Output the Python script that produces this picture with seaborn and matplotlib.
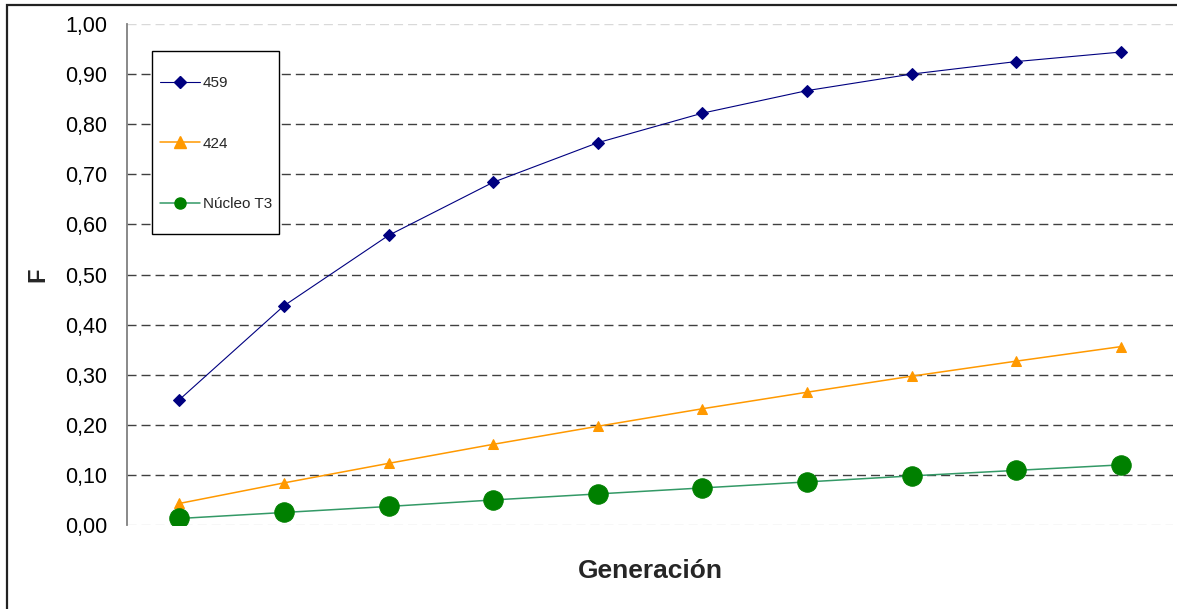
import matplotlib
matplotlib.use("Agg")
import matplotlib.pyplot as plt
from matplotlib.lines import Line2D
from matplotlib.patches import Rectangle
from matplotlib.ticker import FuncFormatter
import seaborn as sns
import pandas as pd

# Inbreeding coefficient F per generation
generaciones = list(range(1, 11))
f_459 = [0.250, 0.4375, 0.578, 0.684, 0.763, 0.822, 0.867, 0.900, 0.925, 0.944]
f_424 = [0.043, 0.084, 0.123, 0.161, 0.197, 0.232, 0.265, 0.297, 0.327, 0.356]
f_nucleo = [0.013, 0.025, 0.037, 0.050, 0.062, 0.074, 0.086, 0.098, 0.109, 0.120]
series_names = ["459", "424", "Núcleo T3"]
y_ticks = [0.0, 0.1, 0.2, 0.3, 0.4, 0.5, 0.6, 0.7, 0.8, 0.9, 1.0]

sns.set_style("white")
plt.rcParams["font.family"] = ["Liberation Sans", "DejaVu Sans"]

W, H = 1177, 609
AX_L, AX_R, AX_T, AX_B = 127, 1173, 24, 525
fig = plt.figure(figsize=(W / 100, H / 100), dpi=100)
ax = fig.add_axes([AX_L / W, (H - AX_B) / H, (AX_R - AX_L) / W, (AX_B - AX_T) / H])


def ax_x(px):
    return (px - AX_L) / (AX_R - AX_L)


def ax_y(py):
    return (AX_B - py) / (AX_B - AX_T)


styles = [
    dict(color="#000080", marker="D", markersize=6, markerfacecolor="#000080",
         markeredgecolor="#000080", linewidth=0.8),
    dict(color="#FF9900", marker="^", markersize=7.5, markerfacecolor="#FF9900",
         markeredgecolor="#FF9900", linewidth=1.1),
    dict(color="#339966", marker="o", markersize=14, markerfacecolor="#008000",
         markeredgecolor="#008000", linewidth=1.1),
]
values = [f_459, f_424, f_nucleo]

for name, vals, st in zip(series_names, values, styles):
    df = pd.DataFrame({"Generación": generaciones, "F": vals})
    sns.lineplot(data=df, x="Generación", y="F", ax=ax, legend=False, **st)

ax.set_xlim(0.5, 10.5)
ax.set_ylim(0, 1.0)
ax.set_yticks(y_ticks)
ax.yaxis.set_major_formatter(FuncFormatter(lambda v, p: f"{v:.2f}".replace(".", ",")))
ax.set_xticks([])

ax.tick_params(axis="y", direction="out", length=6, width=1.0, color="black",
               pad=8, labelsize=15.5, labelcolor="black")

for s in ["top", "right", "bottom"]:
    ax.spines[s].set_visible(False)
ax.spines["left"].set_color("#808080")
ax.spines["left"].set_linewidth(1.3)

ax.yaxis.grid(True, color="#404040", linewidth=1.0, linestyle=(0, (6.5, 3.6)))
grid = ax.get_ygridlines()
for g in (grid[0], grid[-1]):
    g.set_color("#D9D9D9")
ax.set_axisbelow(True)

ax.set_xlabel("Generación", fontsize=19, fontweight="bold")
ax.xaxis.set_label_coords(0.5, -0.068)
ax.set_ylabel("F", fontsize=17, fontweight="bold", labelpad=0)
ax.yaxis.set_label_coords(-0.074, 0.5)

# legend: entries without frame, box drawn separately
handles = [
    Line2D([], [], color="#000080", marker="D", markersize=6, linewidth=0.8,
           markerfacecolor="#000080", markeredgecolor="#000080"),
    Line2D([], [], color="#FF9900", marker="^", markersize=8, linewidth=1.1,
           markerfacecolor="#FF9900", markeredgecolor="#FF9900"),
    Line2D([], [], color="#339966", marker="o", markersize=8, linewidth=1.1,
           markerfacecolor="#008000", markeredgecolor="#008000"),
]
leg = ax.legend(handles, series_names, loc="upper left",
                bbox_to_anchor=(ax_x(160), ax_y(76)),
                fontsize=11, frameon=False, borderpad=0, handlelength=2.6,
                handletextpad=0.2, labelspacing=3.05, borderaxespad=0,
                numpoints=1)

box = Rectangle((ax_x(152), ax_y(234)), ax_x(279) - ax_x(152), ax_y(51) - ax_y(234),
                transform=ax.transAxes, facecolor="white", edgecolor="black",
                linewidth=1.0, zorder=4)
ax.add_patch(box)
leg.set_zorder(5)

# outer chart border
fig.patches.append(Rectangle((7 / W, -0.1), 1.2, (H - 5) / H + 0.1,
                             transform=fig.transFigure, fill=False,
                             edgecolor="#222222", linewidth=1.6))

fig.savefig("out.png", dpi=100)
